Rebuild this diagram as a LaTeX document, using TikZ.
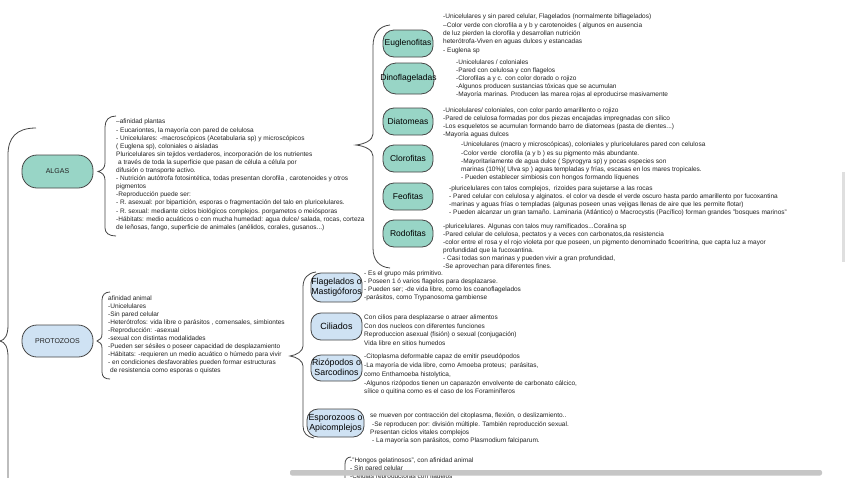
\documentclass[tikz,border=0pt]{standalone}
\usepackage{fontspec}
\setmainfont{Liberation Sans}
\definecolor{teal1}{RGB}{152,213,198}
\definecolor{blue1}{RGB}{207,226,243}
\definecolor{edge}{RGB}{70,70,70}
\definecolor{ink}{RGB}{35,35,35}
\newcommand\ovl[1]{\makebox[0pt]{#1}}
\newcommand\twol[2]{\makebox[0pt]{\begin{tabular}{@{}c@{}}#1\\#2\end{tabular}}}
\begin{document}
\begin{tikzpicture}[x=1pt,y=-1pt,
  brace/.style={draw=edge, line width=0.8pt},
  txt/.style={anchor=north west, inner sep=0pt, align=left, text=ink,
    font=\fontsize{6.5}{#1}\selectfont, execute at begin node={\rule{0pt}{4.8pt}}},
  txt/.default=8.2,
  bignode/.style={draw=edge, line width=0.8pt, rounded corners=15pt, minimum width=71pt,
    minimum height=33pt, inner sep=0pt, text=ink, font=\fontsize{7}{8}\selectfont},
  algnode/.style={draw=edge, line width=0.8pt, fill=teal1, rounded corners=11pt,
    minimum width=50pt, minimum height=27pt, inner sep=0pt, text=black,
    font=\fontsize{8.5}{10}\selectfont},
  protnode/.style={draw=edge, line width=0.8pt, fill=blue1, rounded corners=10pt,
    minimum width=51pt, minimum height=28pt, inner sep=0pt, text=black,
    font=\fontsize{8.8}{10}\selectfont},
]
\clip (0,0) rectangle (848,477);
\fill[white] (0,0) rectangle (848,477);

% ---------- main nodes
\node[bignode, fill=teal1] (algas) at (57.5,171.5) {ALGAS};
\node[bignode, fill=blue1, minimum height=32pt] (protozoos) at (57.5,341) {PROTOZOOS};

% ---------- big left brace
\draw[brace] (36,128) .. controls (16,128) and (8,138) .. (8,155) -- (8,325)
  .. controls (8,335) and (5,340) .. (0,341) .. controls (5,342) and (8,347) .. (8,357) -- (8,480);

% ---------- ALGAS description
\draw[brace] (116,116) .. controls (109,116) and (105,120) .. (105,127) -- (105,163)
  .. controls (105,168) and (102,170.5) .. (98,171.5) .. controls (102,172.5) and (105,175) .. (105,180)
  -- (105,228) .. controls (105,233) and (109,236) .. (116,236);
\node[txt=8.1] (algastxt) at (116,119) {--afinidad plantas\\
- Eucariontes, la mayoría con pared de celulosa\\
- Unicelulares: -macroscópicos (Acetabularia sp) y microscópicos\\
( Euglena sp), coloniales o aisladas\\
Pluricelulares sin tejidos verdaderos, incorporación de los nutrientes\\
\hspace*{2pt}a través de toda la superficie que pasan de célula a célula por\\
difusión o transporte activo.\\
- Nutrición autótrofa fotosintética, todas presentan clorofila , carotenoides y otros\\
pigmentos\\
-Reproducción puede ser:\\
- R. asexual: por bipartición, esporas o fragmentación del talo en pluricelulares.\\
- R. sexual: mediante ciclos biológicos complejos. porgametos o meiósporas\\
-Hábitats: medio acuáticos o con mucha humedad: agua dulce/ salada, rocas, corteza\\
de leñosas, fango, superficie de animales (anélidos, corales, gusanos...)};

% ---------- algae subgroup brace
\draw[brace] (390,25) .. controls (379,26) and (373,34) .. (373,46) -- (373,134)
  .. controls (373,140) and (365,144) .. (356,145) .. controls (365,146) and (373,150) .. (373,156)
  -- (373,248) .. controls (373,260) and (379,267) .. (390,268);

\node[algnode] (eug) at (408,43.5) {Euglenofitas};
\node[algnode, minimum width=51pt, minimum height=31pt, rounded corners=13pt] (dino) at (408.5,78.5) {\ovl{Dinoflageladas}};
\node[algnode] (diat) at (408,121.5) {Diatomeas};
\node[algnode] (clor) at (408,158.5) {Clorofitas};
\node[algnode] (feo) at (408,196.5) {Feofitas};
\node[algnode] (rodo) at (408,233.5) {Rodofitas};

\node[txt=8.3] (eugtxt) at (443,14) {-Unicelulares y sin pared celular, Flagelados (normalmente biflagelados)\\
--Color verde con clorofila a y b y carotenoides ( algunos en ausencia\\
de luz pierden la clorofila y desarrollan nutrición\\
heterótrofa-Viven en aguas dulces y estancadas\\
- Euglena sp};

\node[txt=8.0] (dinotxt) at (456,60) {-Unicelulares / coloniales\\
-Pared con celulosa y con flagelos\\
-Clorofilas a y c. con color dorado o rojizo\\
-Algunos producen sustancias tóxicas que se acumulan\\
-Mayoría marinas. Producen las marea rojas al eproducirse masivamente};

\node[txt=8.0] (diattxt) at (443,108) {-Unicelulares/ coloniales, con color pardo amarillento o rojizo\\
-Pared de celulosa formadas por dos piezas encajadas impregnadas con sílico\\
-Los esqueletos se acumulan formando barro de diatomeas (pasta de dientes...)\\
-Mayoría aguas dulces};

\node[txt=8.2] (clortxt) at (461,142) {-Unicelulares (macro y microscópicas), coloniales y pluricelulares pared con celulosa\\
-Color verde\ \ clorofila (a y b ) es su pigmento más abundante.\\
-Mayoritariamente de agua dulce ( Spyrogyra sp) y pocas especies son\\
marinas (10\%)( Ulva sp ) aguas templadas y frías, escasas en los mares tropicales.\\
- Pueden establecer simbiosis con hongos formando líquenes};

\node[txt=8.0] (feotxt) at (449,186) {-pluricelulares con talos complejos,\ \ rizoides para sujetarse a las rocas\\
- Pared celular con celulosa y alginatos. el color va desde el verde oscuro hasta pardo amarillento por fucoxantina\\
-marinas y aguas frías o templadas (algunas poseen unas vejigas llenas de aire que les permite flotar)\\
- Pueden alcanzar un gran tamaño. Laminaria (Atlántico) o Macrocystis (Pacífico) forman grandes "bosques marinos"};

\node[txt=8.0] (rodotxt) at (443,224) {-pluricelulares. Algunas con talos muy ramificados...Coralina sp\\
-Pared celular de celulosa, pectatos y a veces con carbonatos,da resistencia\\
-color entre el rosa y el rojo violeta por que poseen, un pigmento denominado ficoeritrina, que capta luz a mayor\\
profundidad que la fucoxantina.\\
- Casi todas son marinas y pueden vivir a gran profundidad,\\
-Se aprovechan para diferentes fines.};

% ---------- PROTOZOOS description
\draw[brace] (110,292) .. controls (105,292) and (102,295) .. (102,300) -- (102,334)
  .. controls (102,338) and (100,340) .. (97,341) .. controls (100,342) and (102,344) .. (102,348)
  -- (102,372) .. controls (102,377) and (105,379) .. (110,379);
\node[txt=8.0] (prottxt) at (108,296) {afinidad animal\\
-Unicelulares\\
-Sin pared celular\\
-Heterótrofos: vida libre o parásitos , comensales, simbiontes\\
-Reproducción: -asexual\\
-sexual con distintas modalidades\\
-Pueden ser sésiles o poseer capacidad de desplazamiento\\
-Hábitats: -requieren un medio acuático o húmedo para vivir\\
- en condiciones desfavorables pueden formar estructuras\\
\hspace*{2pt}de resistencia como esporas o quistes};

% ---------- protozoa subgroup brace
\draw[brace] (316,272) .. controls (308,273) and (303,278) .. (303,287) -- (303,346)
  .. controls (303,351) and (297,355) .. (290,356) .. controls (297,357) and (303,361) .. (303,366)
  -- (303,426) .. controls (303,433) and (307,437) .. (314,438);

\node[protnode, minimum height=29pt] (flag) at (336.5,287.5) {\twol{Flagelados o}{Mastigóforos}};
\node[protnode, minimum height=27pt, font=\fontsize{9}{10}\selectfont] (cil) at (336.5,326.5) {Ciliados};
\node[protnode, minimum height=26pt] (riz) at (336.5,368) {\twol{Rizópodos o}{Sarcodinos}};
\node[protnode, minimum width=57pt, minimum height=28pt, rounded corners=11pt] (espo) at (335.5,423) {\twol{Esporozoos o}{Apicomplejos}};

\node[txt=8.0] (flagtxt) at (364,271) {- Es el grupo más primitivo.\\
- Poseen 1 ó varios flagelos para desplazarse.\\
- Pueden ser; -de vida libre, como los coanoflagelados\\
-parásitos, como Trypanosoma gambiense};

\node[txt=8.4] (ciltxt) at (364,315) {Con cilios para desplazarse o atraer alimentos\\
Con dos nucleos con diferentes funciones\\
Reproduccion asexual (fisión) o sexual (conjugación)\\
Vida libre en sitios humedos};

\node[txt=8.7] (riztxt) at (364,354) {-Citoplasma deformable capaz de emitir pseudópodos\\
-La mayoría de vida libre, como Amoeba proteus;\ \ parásitas,\\
como Enthamoeba histolytica,\\
-Algunos rizópodos tienen un caparazón envolvente de carbonato cálcico,\\
sílice o quitina como es el caso de los Foraminíferos};

\node[txt=8.3] (espotxt) at (370,413) {se mueven por contracción del citoplasma, flexión, o deslizamiento..\\
\hspace*{2pt}-Se reproducen por: división múltiple. También reproducción sexual.\\
Presentan ciclos vitales complejos\\
\hspace*{2pt}- La mayoría son parásitos, como Plasmodium falciparum.};

% ---------- bottom group
\draw[brace] (351,457) .. controls (347,457) and (345,460) .. (345,464) -- (345,480);
\node[txt=8.0] (hongtxt) at (350,458) {-"Hongos gelatinosos", con afinidad animal\\
- Sin pared celular\\
-Células reproductoras con flagelos};

% ---------- scrollbars
\fill[gray!45, rounded corners=2pt] (290,470) rectangle (822,475.5);
\fill[gray!25] (842,172) rectangle (845,262);
\end{tikzpicture}
\end{document}
